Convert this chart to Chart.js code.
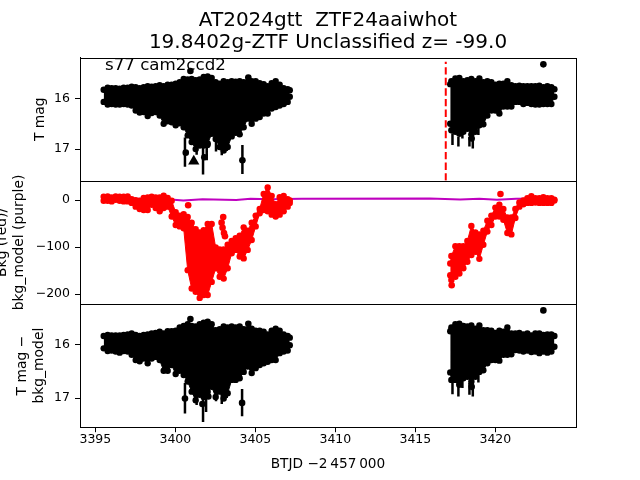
<!DOCTYPE html>
<html>
<head>
<meta charset="utf-8">
<title>AT2024gtt</title>
<script src="https://cdn.jsdelivr.net/npm/chart.js@4"></script>
<style>
    html, body { margin: 0; padding: 0; background: #fff; }
    canvas { display: block; }
</style>
</head>
<body>
<canvas id="myChart" width="640" height="480"></canvas>
<script>
// first stretch of the light curve, envelope
const timeA = [3395.52, 3395.77, 3396.02, 3396.27, 3396.52, 3396.77, 3397.02, 3397.27, 3397.52, 3397.77, 3398.02, 3398.27, 3398.52, 3398.77, 3399.02, 3399.27, 3399.52, 3399.77, 3400.02, 3400.27, 3400.52, 3400.77, 3401.02, 3401.27, 3401.52, 3401.77, 3402.02, 3402.27, 3402.52, 3402.77, 3403.02, 3403.27, 3403.52, 3403.77, 3404.02, 3404.27, 3404.52, 3404.77, 3405.02, 3405.27, 3405.52, 3405.77, 3406.02, 3406.27, 3406.52, 3406.77, 3407.02, 3407.15];
// second stretch
const timeB = [3417.18, 3417.25, 3417.5, 3417.75, 3418.0, 3418.25, 3418.5, 3418.75, 3419.0, 3419.25, 3419.5, 3419.75, 3420.0, 3420.25, 3420.5, 3420.75, 3421.0, 3421.25, 3421.5, 3421.75, 3422.0, 3422.25, 3422.5, 3422.75, 3423.0, 3423.25, 3423.5, 3423.69];

// T mag panel
const magHighA = [15.83, 15.79, 15.80, 15.80, 15.81, 15.79, 15.79, 15.77, 15.78, 15.80, 15.78, 15.76, 15.77, 15.76, 15.74, 15.76, 15.73, 15.73, 15.71, 15.68, 15.62, 15.63, 15.62, 15.64, 15.63, 15.58, 15.57, 15.60, 15.68, 15.71, 15.66, 15.68, 15.66, 15.67, 15.66, 15.68, 15.68, 15.66, 15.66, 15.70, 15.72, 15.76, 15.70, 15.66, 15.73, 15.80, 15.82, 15.84];
const magLowA = [16.07, 16.12, 16.11, 16.12, 16.12, 16.11, 16.12, 16.14, 16.24, 16.28, 16.27, 16.35, 16.29, 16.27, 16.34, 16.50, 16.45, 16.47, 16.53, 16.49, 16.57, 16.73, 16.86, 17.00, 16.93, 16.93, 16.89, 16.70, 16.80, 16.96, 17.03, 16.96, 16.75, 16.68, 16.71, 16.57, 16.40, 16.50, 16.40, 16.37, 16.30, 16.30, 16.20, 16.17, 16.14, 16.11, 16.07, 15.97];
const magHighB = [15.72, 15.66, 15.61, 15.60, 15.66, 15.64, 15.62, 15.66, 15.61, 15.68, 15.66, 15.68, 15.73, 15.71, 15.71, 15.66, 15.74, 15.76, 15.75, 15.76, 15.76, 15.76, 15.76, 15.75, 15.78, 15.76, 15.78, 15.82];
const magLowB = [16.50, 16.63, 16.66, 16.70, 16.66, 16.60, 16.71, 16.66, 16.53, 16.51, 16.34, 16.24, 16.24, 16.30, 16.16, 16.16, 16.16, 16.07, 16.07, 16.11, 16.09, 16.11, 16.12, 16.12, 16.11, 16.11, 16.11, 15.97];
const magSpikeTime = [3400.60, 3401.73, 3401.96, 3401.33, 3402.54, 3402.90, 3403.21, 3404.19, 3417.32, 3417.69, 3417.94, 3418.38, 3418.59, 3418.94];
const magSpikeLow = [16.77, 16.76, 16.76, 16.82, 16.76, 16.82, 16.82, 16.92, 16.69, 16.76, 16.69, 16.76, 16.69, 16.56];
const magSpikeHigh = [17.35, 17.50, 17.22, 17.11, 17.05, 17.12, 17.04, 17.49, 16.92, 16.95, 16.79, 16.95, 16.99, 16.72];
const magDotTime = [3400.94, 3404.56, 3400.65, 3401.81, 3404.19, 3402.00, 3423.00, 3418.52];
const magDotValue = [15.46, 15.59, 17.07, 17.16, 17.22, 16.92, 15.33, 16.79];
const limitTime = [3401.15];
const limitMag = [17.24];
const discoveryTime = [3416.9, 3416.9];
const discoveryMag = [17.62, 15.28];

// background panel
const bkgHighA = [7.1, 7.8, 5.7, 7.8, 7.1, 7.1, 7.8, 2.1, 0, -1.4, 4.3, 5.7, 7.1, 5.7, 5.7, 9.3, 4.3, -1.4, -26, -33, -30, -36, -48, -62, -69, -64, -51, -51, -101, -105, -105, -95, -87, -81, -76, -58, -65, -48, -33, -19, 13, 27, 9, -9, 6, 9, 2, -1];
const bkgLowA = [-1.4, -1.4, -2.8, 0.7, -1.4, -2.8, -2.8, -6, -14, -19, -21, -21, -10, -17, -24, -17, -14, -35, -53, -56, -60, -149, -188, -195, -208, -202, -202, -174, -145, -163, -167, -145, -113, -106, -120, -124, -106, -85, -56, -28, -21, -24, -31, -35, -31, -24, -14, -6];
const bkgHighB = [-135, -119, -98, -98, -98, -87, -55, -69, -73, -65, -44, -33, -16, -10, -19, -37, -37, -19, -5, -1, 4, 8, 4, 4, 6, 4, 4, -1];
const bkgLowB = [-160, -170, -163, -156, -145, -131, -117, -110, -125, -95, -67, -53, -35, -35, -42, -70, -73, -38, -14, -9, -6, -6, -5, -6, -6, -6, -6, 1];
const bkgDotTime = [3400.80, 3402.99, 3402.89, 3402.95, 3403.04, 3403.10, 3417.27, 3420.32];
const bkgDotValue = [-11, -36, -48, -59, -70, -77, -181, 13];
const modelTime = [3395.5, 3397.5, 3399.7, 3400.5, 3401.7, 3403.8, 3404.7, 3405.9, 3407.9, 3415.9, 3417.8, 3419.0, 3420.1, 3421.3, 3423.7];
const modelValue = [0.7, 2.8, 1.4, -0.7, 2, 0, 2.8, 2, 2.8, 3.5, 1.4, 2.8, 0.7, 2.8, 3.5];

// T mag - bkg_model panel
const subHighA = [15.84, 15.82, 15.83, 15.83, 15.83, 15.82, 15.81, 15.79, 15.82, 15.84, 15.82, 15.81, 15.79, 15.78, 15.76, 15.79, 15.75, 15.75, 15.74, 15.68, 15.65, 15.62, 15.65, 15.66, 15.62, 15.59, 15.57, 15.62, 15.73, 15.71, 15.66, 15.68, 15.66, 15.68, 15.66, 15.71, 15.71, 15.70, 15.74, 15.74, 15.76, 15.81, 15.74, 15.70, 15.74, 15.81, 15.84, 15.87];
const subLowA = [16.07, 16.12, 16.11, 16.13, 16.15, 16.12, 16.13, 16.19, 16.29, 16.31, 16.26, 16.35, 16.26, 16.23, 16.29, 16.49, 16.49, 16.38, 16.55, 16.49, 16.57, 16.69, 16.88, 17.04, 16.94, 16.98, 16.88, 16.79, 16.98, 16.88, 17.01, 16.91, 16.66, 16.66, 16.63, 16.51, 16.41, 16.53, 16.44, 16.38, 16.35, 16.32, 16.29, 16.29, 16.16, 16.13, 16.11, 16.01];
const subHighB = [15.75, 15.68, 15.62, 15.61, 15.65, 15.66, 15.64, 15.70, 15.64, 15.73, 15.73, 15.74, 15.78, 15.74, 15.76, 15.68, 15.79, 15.79, 15.78, 15.81, 15.79, 15.83, 15.79, 15.79, 15.82, 15.81, 15.81, 15.84];
const subLowB = [16.52, 16.66, 16.66, 16.69, 16.63, 16.60, 16.69, 16.60, 16.51, 16.48, 16.35, 16.29, 16.29, 16.30, 16.19, 16.19, 16.18, 16.10, 16.11, 16.13, 16.11, 16.14, 16.13, 16.16, 16.13, 16.15, 16.13, 16.04];
const subSpikeTime = [3400.60, 3401.73, 3401.92, 3401.33, 3402.54, 3402.90, 3403.21, 3404.17, 3417.32, 3417.69, 3417.94, 3418.38, 3418.59, 3418.94];
const subSpikeLow = [16.72, 16.78, 16.91, 16.91, 16.84, 16.91, 16.91, 16.83, 16.59, 16.72, 16.66, 16.72, 16.66, 16.56];
const subSpikeHigh = [17.29, 17.45, 17.26, 17.13, 17.06, 17.11, 17.00, 17.34, 16.93, 16.97, 16.81, 16.94, 16.97, 16.71];
const subDotTime = [3400.94, 3404.56, 3400.60, 3404.17, 3402.06, 3401.69, 3423.00, 3418.52, 3417.75];
const subDotValue = [15.52, 15.61, 17.01, 17.09, 16.97, 17.11, 15.36, 16.79, 16.75];

// tick labels
const timeTicks = [3395, 3400, 3405, 3410, 3415, 3420];
const magTicks = [16, 17];
const bkgTicks = [0, -100, -200];
const subTicks = [16, 17];

function toPoints(xs, ys) {
    let pts = [];
    for (let i = 0; i < xs.length; i++) {
        pts.push({ x: xs[i], y: ys[i] });
    }
    return pts;
}

// filled stretch between two edges, with round dots on the edges
function band(times, high, low, axis, color) {
    let common = {
        type: 'line',
        yAxisID: axis,
        borderColor: color,
        backgroundColor: color,
        borderWidth: 1,
        pointRadius: 3.2,
        pointBorderWidth: 0,
        pointBackgroundColor: color,
        tension: 0,
    };
    return [
        Object.assign({}, common, { data: toPoints(times, high), fill: '+1' }),
        Object.assign({}, common, { data: toPoints(times, low), fill: false }),
    ];
}

// error bars that stick out of the band
function spikes(times, low, high, axis) {
    let pts = [];
    for (let i = 0; i < times.length; i++) {
        pts.push({ x: times[i], y: low[i] });
        pts.push({ x: times[i], y: high[i] });
        pts.push({ x: times[i], y: null });
    }
    return {
        type: 'line',
        yAxisID: axis,
        data: pts,
        borderColor: 'black',
        borderWidth: 2.5,
        pointRadius: 0,
        spanGaps: false,
    };
}

function dots(times, values, axis, color) {
    return {
        type: 'scatter',
        yAxisID: axis,
        data: toPoints(times, values),
        backgroundColor: color,
        borderWidth: 0,
        pointRadius: 3.3,
    };
}

function fixTicks(values) {
    return function (scale) {
        scale.ticks = values.map(v => ({ value: v }));
    };
}

function panelAxis(extra) {
    return Object.assign({
        type: 'linear',
        position: 'left',
        stack: 'panels',
        stackWeight: 1,
        afterFit: function (scale) { scale.width = 80; },
        grid: { drawOnChartArea: false, drawTicks: true, tickLength: 5, tickColor: 'black' },
        border: { color: 'black', width: 1 },
        ticks: {
            color: 'black',
            padding: 5,
            font: { size: 12.5 },
            callback: v => (v < 0 ? '\u2212' + Math.abs(v) : String(v)),
        },
    }, extra);
}

function axisTitle(text, left) {
    return {
        display: true,
        text: text,
        color: 'black',
        font: { size: 13.9 },
        padding: { top: left, bottom: 0 },
    };
}

// box round each panel and the small label inside the top one
const panelFrame = {
    id: 'panelFrame',
    afterDraw(chart) {
        const ctx = chart.ctx;
        const a = chart.chartArea;
        ctx.save();
        ctx.strokeStyle = 'black';
        ctx.lineWidth = 1;
        ['yMag', 'yBkg', 'ySub'].forEach(id => {
            const s = chart.scales[id];
            ctx.strokeRect(a.left + 0.5, Math.round(s.top) + 0.5, a.right - a.left, Math.round(s.bottom) - Math.round(s.top));
        });
        ctx.fillStyle = 'black';
        ctx.font = '16.67px "DejaVu Sans"';
        ctx.fillText('s77 cam2ccd2', chart.scales.x.getPixelForValue(3395.6), chart.scales.yMag.getPixelForValue(15.44));
        ctx.restore();
    }
};

Chart.defaults.font.family = '"DejaVu Sans"';

const datasets = [
    ...band(timeA, magHighA, magLowA, 'yMag', 'black'),
    ...band(timeB, magHighB, magLowB, 'yMag', 'black'),
    spikes(magSpikeTime, magSpikeLow, magSpikeHigh, 'yMag'),
    dots(magDotTime, magDotValue, 'yMag', 'black'),
    {
        type: 'scatter',
        yAxisID: 'yMag',
        data: toPoints(limitTime, limitMag),
        pointStyle: 'triangle',
        pointRadius: 6.5,
        backgroundColor: 'black',
        borderWidth: 0,
    },
    {
        type: 'line',
        yAxisID: 'yMag',
        data: toPoints(discoveryTime, discoveryMag),
        borderColor: '#ff0000',
        borderWidth: 2,
        borderDash: [7.4, 3.2],
        pointRadius: 0,
    },
    ...band(timeA, bkgHighA, bkgLowA, 'yBkg', '#ff0000'),
    ...band(timeB, bkgHighB, bkgLowB, 'yBkg', '#ff0000'),
    dots(bkgDotTime, bkgDotValue, 'yBkg', '#ff0000'),
    {
        type: 'line',
        yAxisID: 'yBkg',
        data: toPoints(modelTime, modelValue),
        borderColor: '#bf00bf',
        borderWidth: 2,
        pointRadius: 0,
        tension: 0,
    },
    ...band(timeA, subHighA, subLowA, 'ySub', 'black'),
    ...band(timeB, subHighB, subLowB, 'ySub', 'black'),
    spikes(subSpikeTime, subSpikeLow, subSpikeHigh, 'ySub'),
    dots(subDotTime, subDotValue, 'ySub', 'black'),
];

new Chart(document.getElementById('myChart'), {
    type: 'line',
    data: { datasets: datasets },
    plugins: [panelFrame],
    options: {
        responsive: false,
        animation: false,
        layout: { padding: { left: 0, right: 64, top: 0, bottom: 0 } },
        plugins: {
            legend: { display: false },
            tooltip: { enabled: false },
            title: {
                display: true,
                fullSize: false,
                text: ['AT2024gtt  ZTF24aaiwhot', '19.8402g-ZTF Unclassified z= -99.0'],
                color: 'black',
                font: { size: 20, weight: 'normal', lineHeight: 1.1 },
                padding: { top: 10, bottom: 3.6 },
            },
        },
        scales: {
            x: {
                type: 'linear',
                position: 'bottom',
                min: 3394.04,
                max: 3425.04,
                afterBuildTicks: fixTicks(timeTicks),
                afterFit: function (scale) { scale.height = 52.8; },
                grid: { drawOnChartArea: false, drawTicks: true, tickLength: 5, tickColor: 'black' },
                border: { color: 'black', width: 1 },
                ticks: { color: 'black', font: { size: 12.5 }, padding: 0, maxRotation: 0, callback: v => String(v) },
                title: {
                    display: true,
                    text: 'BTJD \u22122\u2009457\u2009000',
                    color: 'black',
                    font: { size: 13.7 },
                    padding: { top: 0, bottom: 7 },
                },
            },
            ySub: panelAxis({
                min: 15.24,
                max: 17.545,
                reverse: true,
                afterBuildTicks: fixTicks(subTicks),
                title: axisTitle(['T mag \u2212', 'bkg_model'], 14),
            }),
            yBkg: panelAxis({
                min: -221,
                max: 41,
                afterBuildTicks: fixTicks(bkgTicks),
                title: axisTitle(['Bkg (red)/', 'bkg_model (purple)'], -5.5),
            }),
            yMag: panelAxis({
                min: 15.197,
                max: 17.625,
                reverse: true,
                afterBuildTicks: fixTicks(magTicks),
                title: axisTitle('T mag', 32),
            }),
        },
    },
});
</script>
</body>
</html>
